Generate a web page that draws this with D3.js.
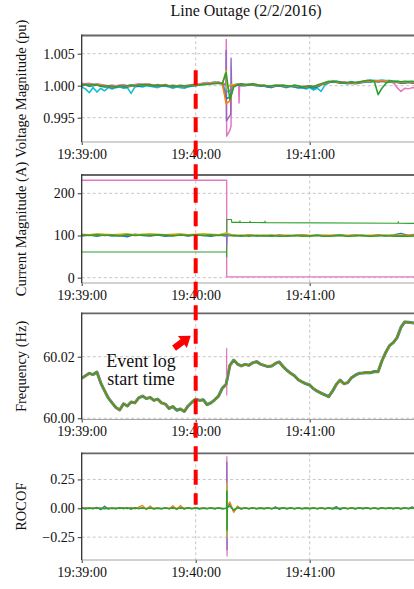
<!DOCTYPE html>
<html>
<head>
<meta charset="utf-8">
<script src="https://cdn.jsdelivr.net/npm/d3@7"></script>
<style>
  body { margin: 0; background: #fff; }
  svg { display: block; }
  svg text { font-family: "Liberation Serif", "Times New Roman", serif; }
</style>
</head>
<body>
<div id="container"></div>
<script>
/* CONSTANTS AND GLOBALS */
const width = 414,
      height = 589;

const chartTitle = "Line Outage (2/2/2016)";
const timeTicks = [0, 60, 120];            // seconds after 19:39:00
const timeLabels = ["19:39:00", "19:40:00", "19:41:00"];
const sampleStep = 2;                      // seconds between values in the regular arrays
const eventLogTime = 60;                   // 19:40:00

/* VOLTAGE (pu) */
const voltTicks = [0.995, 1.000, 1.005];
const voltCyan = [0.9998,0.9995,0.9989,0.9997,0.9990,0.9996,0.9992,0.9997,0.9995,0.9997,0.9998,0.9996,0.9997,0.9988,0.9998,0.9999,0.9998,1.0000,0.9999,0.9998,0.9997,0.9999,0.9999,0.9998,0.9996,0.9998,0.9997,0.9996,0.9998,0.9999,1.0000,1.0002,1.0004,1.0005,1.0004,1.0006,1.0005,1.0004,0.9990,0.9992,1.0001,1.0003,1.0002,1.0001,1.0003,1.0002,1.0001,0.9999,1.0000,0.9998,0.9997,0.9999,1.0000,0.9998,0.9997,0.9999,0.9998,0.9996,0.9997,0.9995,0.9997,0.9993,0.9996,0.9991,1.0001,1.0004,1.0008,1.0006,1.0005,1.0006,1.0004,1.0006,1.0004,1.0005,1.0007,1.0008,1.0009,1.0008,1.0008,1.0009,1.0008,1.0008,1.0007,1.0007,1.0006,1.0006,1.0007,1.0006,1.0006];
const voltPink = [1.0004,1.0003,1.0004,1.0002,1.0003,1.0002,1.0001,1.0000,1.0001,1.0000,1.0001,1.0002,1.0000,1.0001,1.0002,1.0003,1.0002,1.0003,1.0002,1.0001,1.0002,1.0001,1.0002,1.0000,1.0001,1.0000,1.0001,1.0000,1.0001,1.0002,1.0002,1.0003,1.0004,1.0004,1.0005,1.0005,1.0006,1.0004,1.0003,0.9930,1.0001,1.0002,1.0001,1.0001,1.0002,1.0001,1.0000,1.0001,0.9999,1.0000,0.9999,1.0000,1.0001,1.0000,0.9999,1.0000,0.9999,0.9999,0.9998,0.9999,1.0000,0.9999,1.0000,1.0002,1.0004,1.0005,1.0006,1.0007,1.0005,1.0006,1.0005,1.0004,1.0005,1.0006,1.0006,1.0007,1.0006,1.0007,1.0006,1.0007,1.0006,1.0006,1.0005,0.9997,0.9991,0.9996,0.9995,0.9997,0.9996];
const voltPinkSpike = [[76.1,1.0072],[76.3,0.9921],[78.6,0.9937],[78.8,1.0001],[82.6,1.0001],[82.8,0.9973],[83.1,1.0001]];
const voltPurpleSpike = [[74,1.0002],[75.9,1.0001],[76.0,1.0055],[76.2,0.9945],[78.4,0.9955],[78.6,1.0043],[78.9,1.0000],[80,1.0001]];
const voltBlue = [1.0000,1.0001,0.9999,1.0000,1.0001,0.9999,0.9998,0.9998,0.9997,0.9998,0.9999,0.9998,0.9998,0.9999,1.0000,0.9999,1.0000,1.0001,1.0000,1.0000,0.9999,1.0000,1.0000,0.9999,0.9998,0.9999,0.9999,0.9998,0.9999,1.0000,1.0000,1.0001,1.0002,1.0003,1.0003,1.0004,1.0004,1.0003,0.9980,0.9982,1.0000,1.0001,1.0000,1.0000,1.0001,1.0001,1.0000,1.0000,0.9999,0.9998,0.9998,0.9999,1.0000,0.9999,0.9998,0.9999,0.9998,0.9998,0.9997,0.9997,0.9998,0.9996,0.9998,1.0001,1.0003,1.0005,1.0006,1.0005,1.0004,1.0004,1.0003,1.0004,1.0003,1.0004,1.0005,1.0006,1.0006,1.0007,1.0006,1.0007,1.0006,1.0006,1.0005,1.0005,1.0004,1.0004,1.0005,1.0004,1.0004];
const voltOliveSpike = [[74,1.0003],[76,1.0024],[76.3,0.9995],[78,1.0001],[80,1.0002]];
const voltOrange = [1.0002,1.0001,1.0002,1.0001,1.0002,1.0001,1.0000,0.9999,0.9998,0.9999,0.9999,1.0000,0.9999,1.0000,1.0000,1.0001,1.0001,1.0002,1.0001,1.0001,1.0000,1.0001,1.0001,1.0000,0.9999,1.0000,1.0000,0.9999,1.0000,1.0001,1.0000,1.0002,1.0003,1.0003,1.0004,1.0004,1.0005,1.0004,0.9972,0.9976,1.0001,1.0002,1.0002,1.0001,1.0002,1.0002,1.0001,1.0001,1.0000,1.0000,0.9999,1.0000,1.0001,1.0000,0.9999,1.0000,1.0000,0.9999,0.9999,0.9998,0.9999,0.9999,1.0000,1.0002,1.0004,1.0006,1.0007,1.0006,1.0005,1.0005,1.0004,1.0005,1.0004,1.0005,1.0006,1.0007,1.0007,1.0008,1.0007,1.0008,1.0007,1.0007,1.0006,1.0006,1.0005,1.0005,1.0006,1.0005,1.0005];
const voltGreen = [1.0001,1.0002,1.0001,1.0002,1.0001,1.0000,0.9999,1.0000,0.9999,0.9998,1.0000,0.9999,1.0000,1.0001,1.0000,1.0001,1.0002,1.0001,1.0002,1.0000,1.0001,1.0000,1.0001,0.9999,1.0000,0.9999,1.0000,1.0000,0.9999,1.0001,1.0001,1.0001,1.0002,1.0002,1.0003,1.0003,1.0004,1.0003,1.0020,0.9978,0.9998,1.0001,1.0003,1.0002,1.0001,1.0003,1.0002,1.0000,1.0001,0.9999,1.0000,1.0001,1.0000,1.0001,1.0000,0.9999,1.0001,1.0000,0.9998,0.9999,1.0000,0.9998,1.0001,1.0003,1.0005,1.0007,1.0006,1.0007,1.0006,1.0004,1.0005,1.0006,1.0005,1.0006,1.0007,1.0008,1.0008,1.0007,0.9986,0.9996,1.0003,1.0008,1.0007,1.0007,1.0006,1.0007,1.0006,1.0007,1.0006];

/* CURRENT (A), sampled every 4 s */
const currentStep = 4;
const currentTicks = [0, 100, 200];
const currPink = [[0,231],[76.3,231],[76.3,2],[180,2]];
const currGreenLow = [[0,61],[76.2,61],[76.3,49],[76.4,138],[78.8,138],[79,131],[83.2,131],[83.3,135],[83.4,131],[88.5,130.8],[88.6,134],[88.7,130.8],[96.4,130.6],[96.5,134],[96.6,130.6],[166.5,129],[166.6,133],[166.7,129],[180,128.5]];
const currBlue = [99,101,98,102,99,100,97,103,100,99,101,98,100,102,99,101,100,98,101,99,101,98,102,99,100,98,101,99,100,102,99,101,98,100,102,99,101,100,98,102,99,101,105,100,103,101];
const currOlive = [103,102,104,103,102,103,104,102,103,104,103,102,103,104,102,103,104,103,102,106,101,100,101,100,101,100,100,101,100,101,100,101,100,100,101,100,101,100,100,101,100,101,100,100,101,100];
const currOrange = [102,102,101,102,102,101,102,102,101,102,102,101,102,101,102,102,101,102,102,101,100,100,101,100,100,101,100,100,100,101,100,100,101,100,100,100,101,100,100,101,100,100,100,101,100,100];
const currGreen = [101,100,102,100,101,99,102,100,101,100,102,101,99,101,100,102,100,101,100,102,99,100,98,100,99,100,98,99,100,98,99,100,98,99,100,98,99,100,98,99,100,98,99,98,99,99];
const currPurpleSpike = [[75,100],[76.2,100],[76.3,76],[76.5,100],[78,100]];

/* FREQUENCY (Hz) */
const freqTicks = [60.00, 60.02];
const freqAll = [60.0130,60.0138,60.0146,60.0142,60.0150,60.0115,60.0090,60.0066,60.0050,60.0035,60.0027,60.0047,60.0040,60.0053,60.0050,60.0066,60.0072,60.0064,60.0068,60.0058,60.0062,60.0050,60.0046,60.0032,60.0038,60.0026,60.0030,60.0022,60.0040,60.0052,60.0062,60.0058,60.0060,60.0044,60.0050,60.0060,60.0072,60.0098,60.0110,60.0172,60.0189,60.0176,60.0170,60.0175,60.0172,60.0180,60.0184,60.0176,60.0172,60.0168,60.0170,60.0178,60.0183,60.0168,60.0156,60.0146,60.0138,60.0125,60.0118,60.0112,60.0108,60.0096,60.0088,60.0082,60.0076,60.0070,60.0088,60.0110,60.0124,60.0112,60.0116,60.0132,60.0140,60.0146,60.0147,60.0149,60.0148,60.0152,60.0151,60.0186,60.0214,60.0236,60.0246,60.0262,60.0295,60.0313,60.0312,60.0310,60.0309,60.0311];
const freqPinkSpike = [[76.2,60.0130],[76.3,60.0227],[76.35,60.0076],[76.4,60.0133]];

/* ROCOF */
const rocofTicks = [-0.25, 0, 0.25];
const rocofBlue = [0.004,-0.006,0.003,-0.004,0.008,-0.012,0.018,-0.005,0.002,-0.004,0.006,-0.003,0.004,-0.008,0.005,-0.002,0.003,-0.006,0.004,-0.003,0.002,-0.005,0.004,-0.002,0.006,-0.004,0.003,-0.006,0.005,-0.003,0.002,-0.004,0.003,-0.002,0.004,-0.003,0.002,-0.004,0.000,0.040,-0.030,0.012,-0.006,0.004,-0.005,0.003,-0.004,0.006,-0.003,0.004,-0.006,0.012,-0.010,0.005,-0.003,0.004,-0.005,0.003,-0.004,0.006,-0.002,0.004,-0.005,0.003,-0.006,0.004,-0.003,0.015,-0.012,0.005,-0.004,0.003,-0.005,0.004,-0.003,0.006,-0.004,0.003,-0.005,0.004,-0.003,0.005,-0.004,0.003,-0.006,0.004,-0.003,0.012,-0.008,0.004];
const rocofOrange = [-0.003,0.005,-0.004,0.006,-0.002,0.004,-0.005,0.003,-0.006,0.004,-0.003,0.005,-0.004,0.008,-0.006,0.010,0.025,-0.012,0.020,-0.008,0.006,-0.005,0.004,-0.006,0.022,-0.010,0.024,-0.008,0.005,-0.004,0.006,-0.003,0.004,-0.005,0.003,-0.004,0.005,-0.003,0.000,0.055,-0.035,0.020,-0.008,0.005,-0.004,0.006,-0.005,0.004,-0.003,0.005,-0.006,0.004,-0.003,0.006,-0.004,0.003,-0.005,0.004,-0.006,0.005,-0.003,0.004,-0.005,0.006,-0.004,0.003,-0.005,0.004,-0.003,0.005,-0.004,0.006,-0.003,0.004,-0.005,0.003,-0.004,0.005,-0.006,0.004,-0.003,0.005,-0.004,0.006,-0.003,0.004,-0.005,0.003,-0.004,0.005];
const rocofGreen = [0.002,-0.003,0.002,-0.002,0.003,-0.002,0.001,-0.003,0.002,-0.002,0.003,-0.001,0.002,-0.003,0.002,-0.002,0.003,-0.002,0.002,-0.003,0.001,-0.002,0.003,-0.002,0.002,-0.003,0.002,-0.001,0.003,-0.002,0.002,-0.003,0.001,-0.002,0.002,-0.003,0.002,-0.002,0.000,0.020,-0.015,0.006,-0.003,0.002,-0.002,0.003,-0.002,0.001,-0.003,0.002,-0.002,0.003,-0.001,0.002,-0.003,0.002,-0.002,0.003,-0.002,0.001,-0.003,0.002,-0.002,0.003,-0.002,0.002,-0.003,0.001,-0.002,0.003,-0.002,0.002,-0.003,0.002,-0.001,0.003,-0.002,0.002,-0.003,0.002,-0.002,0.003,-0.001,0.002,-0.003,0.002,-0.002,0.003,-0.002,0.002];
const rocofPinkSpike = [[76.3,0],[76.4,0.448],[76.5,-0.414],[76.6,0]];
const rocofPurpleSpike = [[76.3,0],[76.4,0.40],[76.5,-0.36],[76.6,0]];
const rocofOliveSpike = [[76.3,0],[76.4,0.22],[76.5,-0.25],[76.6,0]];
const rocofGreenSpike = [[76.3,0],[76.4,0.15],[76.5,-0.19],[76.6,0]];

/* ANNOTATION (frequency panel data units) */
const annotText = ["Event log", "start time"];
const annotTextTime = 31.2;
const annotTextFreq = [60.01675, 60.0108];
const arrowTail = [48.6, 60.0228];
const arrowTip = [57.4, 60.0268];

const colors = {
  blue: "#1f77b4", orange: "#ff7f0e", green: "#2ca02c", purple: "#9467bd",
  pink: "#e377c2", olive: "#bcbd22", cyan: "#17becf"
};
const serif = "'Liberation Serif', 'Times New Roman', serif";

// turn a regular array into [time, value] points, merging any extra points
function toPoints(values, step, extra) {
  const pts = values.map((v, i) => [i * step, v]);
  return extra ? pts.concat(extra).sort((a, b) => a[0] - b[0]) : pts;
}

const xScale = d3.scaleLinear().domain([0, 180]).range([81.7, 423.7]);

const panels = [
  { key: "volt", top: 35.5, bottom: 142, domain: [0.9912, 1.00784], ticks: voltTicks,
    fmt: d3.format(".3f"), label: "Voltage Magnitude (pu)",
    series: [
      { c: colors.cyan, w: 1.6, p: toPoints(voltCyan, sampleStep) },
      { c: colors.pink, w: 1.5, p: toPoints(voltPink, sampleStep, voltPinkSpike) },
      { c: colors.purple, w: 1.4, p: voltPurpleSpike },
      { c: colors.blue, w: 1.6, p: toPoints(voltBlue, sampleStep) },
      { c: colors.olive, w: 1.4, p: voltOliveSpike },
      { c: colors.orange, w: 1.6, p: toPoints(voltOrange, sampleStep) },
      { c: colors.green, w: 1.6, p: toPoints(voltGreen, sampleStep) }
    ] },
  { key: "curr", top: 175, bottom: 283, domain: [-12.6, 243.4], ticks: currentTicks,
    fmt: d3.format("d"), label: "Current Magnitude (A)",
    series: [
      { c: colors.pink, w: 1.4, p: currPink },
      { c: colors.green, w: 1.1, p: currGreenLow },
      { c: colors.blue, w: 1.5, p: toPoints(currBlue, currentStep) },
      { c: colors.olive, w: 1.4, p: toPoints(currOlive, currentStep) },
      { c: colors.orange, w: 1.4, p: toPoints(currOrange, currentStep) },
      { c: colors.green, w: 1.5, p: toPoints(currGreen, currentStep) },
      { c: colors.purple, w: 1.2, p: currPurpleSpike }
    ] },
  { key: "freq", top: 313.3, bottom: 419.5, domain: [59.9996, 60.0341], ticks: freqTicks,
    fmt: d3.format(".2f"), label: "Frequency (Hz)",
    series: [
      { c: colors.blue, w: 3.0, p: toPoints(freqAll, sampleStep) },
      { c: colors.orange, w: 2.2, p: toPoints(freqAll, sampleStep) },
      { c: colors.pink, w: 1.2, p: freqPinkSpike },
      { c: colors.green, w: 1.4, p: toPoints(freqAll, sampleStep) }
    ] },
  { key: "rocof", top: 453.3, bottom: 560, domain: [-0.448, 0.4766], ticks: rocofTicks,
    fmt: d3.format(".2f"), label: "ROCOF",
    series: [
      { c: colors.blue, w: 1.3, p: toPoints(rocofBlue, sampleStep) },
      { c: colors.orange, w: 1.3, p: toPoints(rocofOrange, sampleStep) },
      { c: colors.pink, w: 1.3, p: rocofPinkSpike },
      { c: colors.purple, w: 1.3, p: rocofPurpleSpike },
      { c: colors.olive, w: 1.3, p: rocofOliveSpike },
      { c: colors.green, w: 1.6, p: toPoints(rocofGreen, sampleStep) },
      { c: colors.green, w: 1.6, p: rocofGreenSpike }
    ] }
];

/* CREATE SVG ELEMENT */
const svg = d3.select("#container")
  .append("svg")
  .attr("width", width)
  .attr("height", height)
  .style("background", "#fff");

svg.append("text")
  .attr("x", 246)
  .attr("y", 16)
  .attr("text-anchor", "middle")
  .attr("font-size", 16)
  .attr("fill", "#111")
  .style("font-family", serif)
  .text(chartTitle);

const x0 = xScale.range()[0], x1 = xScale.range()[1];
const yScales = {};

panels.forEach(panel => {
  const y = d3.scaleLinear().domain(panel.domain).range([panel.bottom, panel.top]);
  yScales[panel.key] = y;
  const g = svg.append("g");

  svg.append("clipPath").attr("id", "clip-" + panel.key)
    .append("rect")
    .attr("x", x0).attr("y", panel.top)
    .attr("width", x1 - x0).attr("height", panel.bottom - panel.top);

  // grid
  g.append("g").selectAll("line").data(panel.ticks).join("line")
    .attr("x1", x0).attr("x2", x1)
    .attr("y1", d => y(d)).attr("y2", d => y(d))
    .attr("stroke", "#b8b8b8").attr("stroke-width", 0.8).attr("stroke-dasharray", "3,2.5");
  g.append("g").selectAll("line").data(timeTicks.slice(1)).join("line")
    .attr("x1", d => xScale(d)).attr("x2", d => xScale(d))
    .attr("y1", panel.top).attr("y2", panel.bottom)
    .attr("stroke", "#b8b8b8").attr("stroke-width", 0.8).attr("stroke-dasharray", "3,2.5");

  // series
  const line = d3.line().x(d => xScale(d[0])).y(d => y(d[1]));
  g.append("g").attr("clip-path", `url(#clip-${panel.key})`)
    .selectAll("path").data(panel.series).join("path")
    .attr("d", d => line(d.p))
    .attr("fill", "none")
    .attr("stroke", d => d.c)
    .attr("stroke-width", d => d.w)
    .attr("stroke-linejoin", "round");

  // axes
  const yAxis = d3.axisLeft(y).tickValues(panel.ticks).tickFormat(panel.fmt).tickSize(4).tickPadding(3);
  g.append("g").attr("transform", `translate(${x0},0)`).call(yAxis)
    .attr("font-family", null).attr("font-size", null)
    .call(a => a.select(".domain").remove())
    .call(a => a.selectAll("line").attr("stroke", "#333"))
    .call(a => a.selectAll("text").style("font-size", "14px").style("font-family", serif).attr("fill", "#111"));

  const xAxis = d3.axisBottom(xScale).tickValues(timeTicks)
    .tickFormat((d, i) => timeLabels[i]).tickSize(3).tickPadding(4);
  g.append("g").attr("transform", `translate(0,${panel.bottom})`).call(xAxis)
    .attr("font-family", null).attr("font-size", null)
    .call(a => a.select(".domain").remove())
    .call(a => a.selectAll("line").attr("stroke", "#333"))
    .call(a => a.selectAll("text").style("font-size", "14px").style("font-family", serif).attr("fill", "#111"));

  // spines
  g.append("line").attr("x1", x0).attr("x2", x1).attr("y1", panel.bottom).attr("y2", panel.bottom)
    .attr("stroke", "#9a9a9a").attr("stroke-width", 0.9);
  g.append("line").attr("x1", x0).attr("x2", x1).attr("y1", panel.top).attr("y2", panel.top)
    .attr("stroke", "#666").attr("stroke-width", 1.8);
  g.append("line").attr("x1", x0).attr("x2", x0).attr("y1", panel.top - 0.9).attr("y2", panel.bottom)
    .attr("stroke", "#333").attr("stroke-width", 1.3);

  // y label
  g.append("text")
    .attr("transform", `translate(21,${(panel.top + panel.bottom) / 2}) rotate(-90)`)
    .attr("text-anchor", "middle")
    .attr("dy", "0.35em")
    .attr("fill", "#111")
    .style("font-size", "14.5px")
    .style("font-family", serif)
    .text(panel.label);
});

/* ANNOTATIONS */
const yF = yScales.freq;
svg.append("g").selectAll("text").data(annotText).join("text")
  .attr("x", xScale(annotTextTime))
  .attr("y", (d, i) => yF(annotTextFreq[i]))
  .attr("text-anchor", "middle")
  .attr("fill", "#111")
  .style("font-size", "18px")
  .style("font-family", serif)
  .text(d => d);

// block arrow from tail to tip
const ax0 = xScale(arrowTail[0]), ay0 = yF(arrowTail[1]);
const ax1 = xScale(arrowTip[0]), ay1 = yF(arrowTip[1]);
const len = Math.hypot(ax1 - ax0, ay1 - ay0);
const ang = Math.atan2(ay1 - ay0, ax1 - ax0) * 180 / Math.PI;
const headLen = len * 0.5;
svg.append("path")
  .attr("transform", `translate(${ax0},${ay0}) rotate(${ang})`)
  .attr("d", `M0,-3.2 L${len - headLen},-3.2 L${len - headLen},-7.5 L${len},0 L${len - headLen},7.5 L${len - headLen},3.2 L0,3.2 Z`)
  .attr("fill", "#ff0000");

// event log start time dashed line, across all panels
svg.append("line")
  .attr("x1", xScale(eventLogTime)).attr("x2", xScale(eventLogTime))
  .attr("y1", yScales.volt(1.0024))
  .attr("y2", yScales.rocof(0.03))
  .attr("stroke", "#ff0000")
  .attr("stroke-width", 4)
  .attr("stroke-dasharray", "15,8.5");
</script>
</body>
</html>
